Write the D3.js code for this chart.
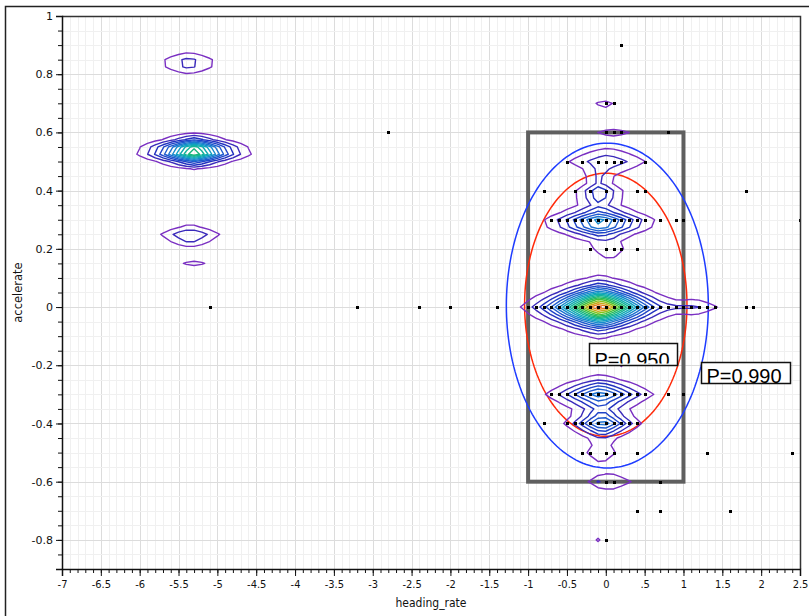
<!DOCTYPE html>
<html><head><meta charset="utf-8">
<script src="https://cdn.jsdelivr.net/npm/d3@7"></script>
<style>body{margin:0;background:#fff}svg{display:block}</style>
</head><body>
<svg id="chart" width="809" height="616"></svg>
<script>
// ---------- data ----------
const xTicks = [-7,-6.5,-6,-5.5,-5,-4.5,-4,-3.5,-3,-2.5,-2,-1.5,-1,-0.5,0,0.5,1,1.5,2,2.5];
const xTickLabels = ["-7","-6.5","-6","-5.5","-5","-4.5","-4","-3.5","-3","-2.5","-2","-1.5","-1","-0.5","0",".5","1","1.5","2","2.5"];
const yTicks = [1,0.8,0.6,0.4,0.2,0,-0.2,-0.4,-0.6,-0.8];
const yTickLabels = ["1","0.8","0.6","0.4","0.2","0","-0.2","-0.4","-0.6","-0.8"];

// density peaks (heading_rate, accelerate, height in contour levels, spread x, spread y, shape exponent)
const peakX = [-0.08, 1.15, -5.3, -5.37, -5.35, -5.3, -0.08, -0.08, 0.02, -0.1, 0.05, 0.1, -0.02, -0.08, -0.04, -0.06, 0.05, -0.1, -0.1, 0.2];
const peakY = [0.0, 0.0, 0.535, 0.838, 0.245, 0.15, 0.29, 0.39, 0.5, 0.45, 0.195, 0.6, 0.695, -0.3, -0.4, -0.5, -0.6, -0.6, -0.8, -0.2];
const peakH = [17.3, 1.8, 13.5, 2.5, 3.1, 1.25, 8, 4.5, 2.6, 1.2, 1.6, 1.3, 1.3, 6.5, 6.5, 1.85, 1.6, 0.75, 1.3, 1.1];
const peakSX = [0.55, 0.35, 0.45, 0.39, 0.376, 0.3, 0.49, 0.25, 0.5, 0.15, 0.25, 0.39, 0.26, 0.48, 0.34, 0.22, 0.4, 0.05, 0.04, 0.04];
const peakSY = [0.058, 0.03, 0.035, 0.038, 0.034, 0.0224, 0.044, 0.034, 0.045, 0.03, 0.04, 0.027, 0.03, 0.045, 0.043, 0.04, 0.04, 0.01, 0.01, 0.01];
const peakP = [1.7, 2, 1.7, 2, 2, 2, 1.7, 1.5, 2, 2, 2, 2, 2, 1.7, 1.7, 2, 2, 2, 2, 2];
const levels = d3.range(1, 18);

// observed points, grouped by accelerate value
const dotRowY = [0.9, 0.7, 0.6, 0.5, 0.4, 0.3, 0.2, 0, -0.3, -0.4, -0.5, -0.6, -0.7, -0.8];
const dotRowX = [
  [0.2],
  [0, 0.1],
  [-2.8, 0, 0.1, 0.2, 0.8],
  [-0.5, -0.3, -0.1, 0, 0.1, 0.2, 0.5],
  [-0.8, -0.4, -0.2, 0, 0.4, 0.5, 1.8],
  [-0.7, -0.6, -0.5, -0.4, -0.3, -0.2, -0.1, 0, 0.1, 0.2, 0.3, 0.4, 0.5, 0.7, 0.9, 1.0, 2.5],
  [-0.2, 0, 0.1, 0.2, 0.4],
  [-5.1, -3.2, -2.4, -2.0, -1.4, -1.0, -0.9, -0.8, -0.7, -0.6, -0.5, -0.4, -0.3, -0.2, -0.1, 0, 0.1, 0.2, 0.3, 0.4, 0.5, 0.6, 0.7, 0.8, 0.9, 1.0, 1.1, 1.2, 1.3, 1.4, 1.8, 1.9],
  [-0.7, -0.6, -0.5, -0.4, -0.3, -0.2, -0.1, 0, 0.1, 0.2, 0.3, 0.4, 0.5, 0.8, 1.0],
  [-0.8, -0.5, -0.4, -0.3, -0.2, -0.1, 0, 0.1, 0.2, 0.3, 0.4],
  [-0.3, -0.2, 0, 0.1, 0.4, 1.3, 2.4],
  [0, 0.1, 0.7],
  [0.4, 0.7, 1.6],
  [0]
];

// probability ellipses
const ellipseLabels = ["P=0.950", "P=0.990"];
const ellipseCX = [0.0, 0.02];
const ellipseCY = [0.008, 0.005];
const ellipseRX = [1.045, 1.3];
const ellipseRY = [0.452, 0.558];

// spec limits rectangle
const specX = [-1, 1];
const specY = [-0.6, 0.6];

// ---------- layout / style ----------
const W = 809, H = 616;
const plotL = 62, plotR = 800, plotT = 16, plotB = 569;
const xDomain = [-7, 2.5], yDomain = [-0.9, 1];
const normQ = 1.3;
const palette = ["#7a2fc2","#3a2abb","#2232c0","#1f44c8","#1e5acd","#1c72d0","#178acb","#109fc2",
                 "#10abb0","#12b39a","#18b67c","#26ba5c","#42bf3c","#86c21e","#c8a818","#e27a18","#e24a14"];
const labelBoxes = [{x:-0.216, y:-0.124, w:88, h:22, clip:true}, {x:1.225, y:-0.189, w:89, h:21, clip:false}];

const svg = d3.select("#chart");
const x = d3.scaleLinear().domain(xDomain).range([plotL, plotR]);
const y = d3.scaleLinear().domain(yDomain).range([plotB, plotT]);

svg.append("rect").attr("width", W).attr("height", H).attr("fill", "#fff");
// outer frame
svg.append("path").attr("d", `M5.5,${H} V6.5 H${W}`).attr("fill","none").attr("stroke","#222").attr("stroke-width",1.5);

const defs = svg.append("defs");
defs.append("clipPath").attr("id","plotclip").append("rect")
  .attr("x", plotL).attr("y", plotT).attr("width", plotR-plotL).attr("height", plotB-plotT);

// grid
const grid = svg.append("g");
const snap = v => Math.round(v) + 0.5;
const xMinor = d3.range(-70, 26).map(i => i/10);
const yMinor = d3.range(-18, 21).map(i => i/20);
grid.selectAll(".xm").data(xMinor).join("line")
  .attr("x1", d => snap(x(d))).attr("x2", d => snap(x(d))).attr("y1", plotT).attr("y2", plotB)
  .attr("stroke", d => Math.abs(d*2 - Math.round(d*2)) < 1e-6 ? "#dcdcdc" : "#f0f0f0");
grid.selectAll(".ym").data(yMinor).join("line")
  .attr("y1", d => snap(y(d))).attr("y2", d => snap(y(d))).attr("x1", plotL).attr("x2", plotR)
  .attr("stroke", d => Math.abs(d*5 - Math.round(d*5)) < 1e-6 ? "#dcdcdc" : "#f0f0f0");

const plot = svg.append("g").attr("clip-path","url(#plotclip)");

// spec rectangle
plot.append("rect")
  .attr("x", x(specX[0])).attr("y", y(specY[1]))
  .attr("width", x(specX[1]) - x(specX[0])).attr("height", y(specY[0]) - y(specY[1]))
  .attr("fill","none").attr("stroke","#5f5f5f").attr("stroke-width",4);

// ellipses
const ellColors = ["#ff2a0a", "#1e3cff"];
ellipseLabels.forEach((lab, k) => {
  const pts = d3.range(0, 181).map(i => {
    const t = i/180*2*Math.PI;
    return [x(ellipseCX[k] + ellipseRX[k]*Math.cos(t)), y(ellipseCY[k] + ellipseRY[k]*Math.sin(t))];
  });
  plot.append("path").attr("d", d3.line()(pts) + "Z")
    .attr("fill","none").attr("stroke", ellColors[k]).attr("stroke-width",1.5);
});

// density grid
const dx = 0.1, dy = 0.025;
const nx = Math.round((xDomain[1]-xDomain[0])/dx) + 1;
const ny = Math.round((yDomain[1]-yDomain[0])/dy) + 1;
const values = new Float64Array(nx*ny);
for (let j = 0; j < ny; j++) {
  const gy = yDomain[0] + j*dy;
  for (let i = 0; i < nx; i++) {
    const gx = xDomain[0] + i*dx;
    let v = 0;
    for (let p = 0; p < peakX.length; p++) {
      const a = Math.abs(gx - peakX[p]) / peakSX[p], b = Math.abs(gy - peakY[p]) / peakSY[p];
      if (a > 12 || b > 12) continue;
      const r = Math.pow(Math.pow(a, normQ) + Math.pow(b, normQ), 1/normQ);
      v += peakH[p] * Math.exp(-Math.pow(r, peakP[p]));
    }
    values[j*nx + i] = v;
  }
}
const proj = d3.geoTransform({point: function(gx, gy) {
  this.stream.point(x(xDomain[0] + (gx - 0.5)*dx), y(yDomain[0] + (gy - 0.5)*dy));
}});
const gpath = d3.geoPath(proj);
const cgen = d3.contours().size([nx, ny]);
plot.append("g").selectAll("path").data(levels).join("path")
  .attr("d", lv => gpath(cgen.contour(values, lv)))
  .attr("fill","none").attr("stroke", (lv, i) => palette[i]).attr("stroke-width", 1.4)
  .attr("stroke-linejoin","round");

// dots
const pts = [];
dotRowY.forEach((yy, r) => dotRowX[r].forEach(xx => pts.push([xx, yy])));
plot.append("g").selectAll("rect").data(pts).join("rect")
  .attr("x", d => Math.round(x(d[0])) - 1).attr("y", d => Math.round(y(d[1])) - 1)
  .attr("width", 3).attr("height", 3).attr("fill", "#000");

// labels
ellipseLabels.forEach((lab, k) => {
  const b = labelBoxes[k];
  const bx = Math.round(x(b.x)) + 0.5, by = Math.round(y(b.y)) + 0.5;
  const g = svg.append("g");
  if (b.clip) {
    defs.append("clipPath").attr("id","lc"+k).append("rect").attr("x", bx).attr("y", by).attr("width", b.w).attr("height", b.h - 2);
  }
  g.append("rect").attr("x", bx).attr("y", by).attr("width", b.w).attr("height", b.h)
    .attr("fill","#fff").attr("stroke","#111").attr("stroke-width",1.5);
  const t = g.append("text").attr("x", bx + 5).attr("y", by + (b.clip ? 23 : 20))
    .attr("font-family","'Liberation Sans', Arial, sans-serif").attr("font-size", 20).attr("fill","#000").text(lab);
  if (b.clip) t.attr("clip-path", "url(#lc"+k+")");
});

// plot frame (top, right)
svg.append("path").attr("d", `M${plotL},${plotT+0.5} H${plotR+0.5} V${plotB}`)
  .attr("fill","none").attr("stroke","#333").attr("stroke-width",1.5);

// axes
const xAxis = svg.append("g").attr("transform", `translate(0,${plotB})`)
  .call(d3.axisBottom(x).tickValues(xTicks).tickFormat((d,i) => xTickLabels[i]).tickSize(7).tickPadding(4));
const xMinorAxis = svg.append("g").attr("transform", `translate(0,${plotB})`)
  .call(d3.axisBottom(x).tickValues(xMinor).tickFormat("").tickSize(4));
xMinorAxis.select(".domain").remove();
const yAxis = svg.append("g").attr("transform", `translate(${plotL},0)`)
  .call(d3.axisLeft(y).tickValues(yTicks).tickFormat((d,i) => yTickLabels[i]).tickSize(6).tickPadding(3));
const yMinorAxis = svg.append("g").attr("transform", `translate(${plotL},0)`)
  .call(d3.axisLeft(y).tickValues(yMinor).tickFormat("").tickSize(4));
yMinorAxis.select(".domain").remove();
[xAxis, yAxis].forEach(a => a.select(".domain").attr("stroke","#111").attr("stroke-width",1.5));
svg.selectAll(".tick line").attr("stroke","#111");
xAxis.selectAll("text").attr("font-family","'DejaVu Sans Condensed','DejaVu Sans',sans-serif").attr("font-size",11).attr("fill","#111");
yAxis.selectAll("text").attr("font-family","'DejaVu Sans',sans-serif").attr("font-size",11).attr("fill","#111");

// axis titles
svg.append("text").attr("x", (plotL+plotR)/2).attr("y", 607).attr("text-anchor","middle")
  .attr("font-family","'DejaVu Sans Condensed','DejaVu Sans',sans-serif").attr("font-size",12).attr("fill","#111").text("heading_rate");
svg.append("text").attr("transform", `translate(22,${(plotT+plotB)/2}) rotate(-90)`).attr("text-anchor","middle")
  .attr("font-family","'DejaVu Sans',sans-serif").attr("font-size",11.5).attr("fill","#111").text("accelerate");
</script>
</body></html>
